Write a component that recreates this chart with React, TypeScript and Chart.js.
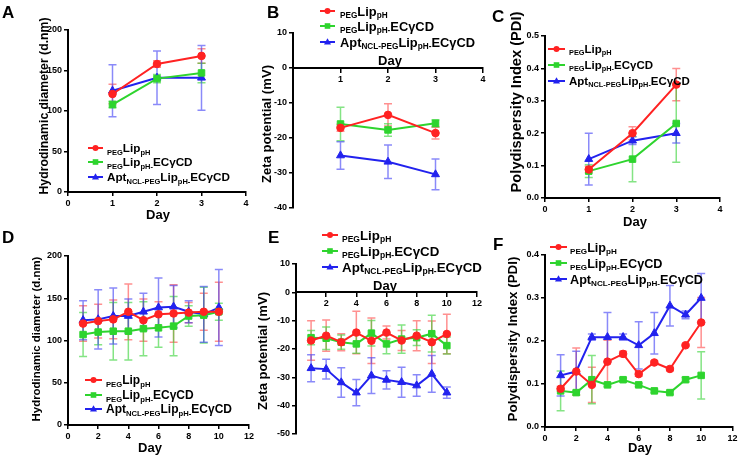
import React, { useEffect, useRef } from 'react';
import { Chart, registerables } from 'chart.js';

Chart.register(...registerables);

const FONT = '"Liberation Sans", Arial, Helvetica, sans-serif';

// ---------------- DATA ----------------
const DAYS_SHORT = [1, 2, 3];
const DAYS_LONG = [1, 2, 3, 4, 5, 6, 7, 8, 9, 10];

// Panel A: hydrodynamic diameter (d.nm), days 1-3
const A_RED = [121, 158, 168];
const A_RED_ERR = [12, 4, 9];
const A_GREEN = [108, 140, 147];
const A_GREEN_ERR = [4, 5, 12];
const A_BLUE = [125, 141, 141];
const A_BLUE_ERR = [32, 33, 40];

// Panel B: zeta potential (mV), days 1-3
const B_RED = [-17.1, -13.4, -18.6];
const B_RED_ERR = [1, 3.2, 1.7];
const B_GREEN = [-16, -17.7, -15.8];
const B_GREEN_ERR = [4.8, 1.8, 1];
const B_BLUE = [-25, -26.8, -30.4];
const B_BLUE_ERR = [3.9, 4.8, 4.4];

// Panel C: PDI, days 1-3
const C_RED = [0.088, 0.2, 0.35];
const C_RED_ERR = [0.01, 0.02, 0.05];
const C_GREEN = [0.083, 0.12, 0.23];
const C_GREEN_ERR = [0.02, 0.07, 0.12];
const C_BLUE = [0.12, 0.177, 0.2];
const C_BLUE_ERR = [0.08, 0.012, 0.03];

// Panel D: hydrodynamic diameter, days 1-10
const D_RED = [120, 123, 125, 134, 124, 131, 132, 133, 134, 134];
const D_RED_ERR = [21, 20, 23, 33, 25, 15, 34, 12, 22, 35];
const D_GREEN = [107, 110, 111, 111, 114, 115, 117, 129, 130, 134];
const D_GREEN_ERR = [26, 15, 34, 34, 32, 23, 35, 12, 33, 10];
const D_BLUE = [124, 125, 129, 129, 134, 139, 140, 134, 131, 139];
const D_BLUE_ERR = [23, 35, 33, 20, 22, 35, 25, 13, 33, 45];

// Panel E: zeta potential, days 1-10
const E_RED = [-17, -15.3, -17.6, -14.2, -17.1, -14.2, -17, -15.3, -17.6, -14.7];
const E_RED_ERR = [7, 5.5, 3, 7.5, 8, 2.3, 3.5, 5.3, 7.5, 7];
const E_GREEN = [-16, -16.2, -17.6, -18.2, -14.4, -18.2, -16.5, -16, -14.6, -18.8];
const E_GREEN_ERR = [2.5, 4, 2.5, 3.3, 4.5, 3.5, 5, 2.8, 6.5, 3];
const E_BLUE = [-26.8, -27.1, -31.8, -35.4, -29.4, -30.9, -31.7, -32.9, -28.8, -35.4];
const E_BLUE_ERR = [4.8, 3.5, 5.2, 4.6, 6.3, 3.2, 5.3, 3.8, 6.5, 2];

// Panel F: PDI, days 1-10
const F_RED = [0.089, 0.129, 0.098, 0.152, 0.17, 0.123, 0.15, 0.135, 0.19, 0.243];
const F_RED_ERR = [0.005, 0.055, 0.041, 0.05, 0.006, 0.005, 0.004, 0.004, 0.003, 0.058];
const F_GREEN = [0.084, 0.08, 0.11, 0.098, 0.11, 0.098, 0.084, 0.08, 0.11, 0.12];
const F_GREEN_ERR = [0.046, 0.005, 0.056, 0.004, 0.004, 0.004, 0.004, 0.004, 0.005, 0.055];
const F_BLUE = [0.12, 0.129, 0.209, 0.209, 0.209, 0.19, 0.218, 0.282, 0.261, 0.3];
const F_BLUE_ERR = [0.048, 0.047, 0.007, 0.057, 0.007, 0.055, 0.048, 0.047, 0.009, 0.057];

// Legend labels (segments; s = subscript)
const LEGEND_LABELS = [
  [{ t: 'PEG', s: true }, { t: 'Lip' }, { t: 'pH', s: true }],
  [{ t: 'PEG', s: true }, { t: 'Lip' }, { t: 'pH-', s: true }, { t: 'ECγCD' }],
  [{ t: 'Apt' }, { t: 'NCL-PEG', s: true }, { t: 'Lip' }, { t: 'pH-', s: true }, { t: 'ECγCD' }],
];
const SERIES_NAMES = ['PEGLippH', 'PEGLippH-ECγCD', 'AptNCL-PEGLippH-ECγCD'];

const Y_TITLE_SIZE = 'Hydrodinamic diameter (d.nm)';
const Y_TITLE_ZETA = 'Zeta potential (mV)';
const Y_TITLE_PDI = 'Polydispersity Index (PDI)';
const X_TITLE = 'Day';

// ---------------- STYLE ----------------
const COLORS = ['#ff2222', '#2ed42e', '#2222ee'];
const ERR_COLORS = ['rgba(255,70,70,0.6)', 'rgba(50,210,50,0.6)', 'rgba(60,60,245,0.6)'];
const POINT_STYLES = ['circle', 'rect', 'triangle'];
const POINT_RADII = [3.8, 4.6, 4.6];

const PANELS: any[] = [
  {
    id: 'A', days: DAYS_SHORT, series: [A_RED, A_GREEN, A_BLUE], errs: [A_RED_ERR, A_GREEN_ERR, A_BLUE_ERR],
    x: [0, 4, 1], y: [0, 200, 50], dec: 0, xAtZero: false,
    area: { l: 68, r: 246, t: 30, b: 192 },
    yTitle: Y_TITLE_SIZE, yt: { x: 45, y: 106, len: 177 }, day: { x: 158, y: 219 },
    letter: { x: 2, y: 18 }, legend: { x0: 88, x1: 103, tx: 107, ys: [148, 162, 177], len: 123 },
  },
  {
    id: 'B', days: DAYS_SHORT, series: [B_RED, B_GREEN, B_BLUE], errs: [B_RED_ERR, B_GREEN_ERR, B_BLUE_ERR],
    x: [0, 4, 1], y: [-40, 10, 10], dec: 0, xAtZero: true,
    area: { l: 293, r: 483, t: 33, b: 208 },
    yTitle: Y_TITLE_ZETA, yt: { x: 267, y: 124, len: 118 }, day: { x: 390, y: 65 },
    letter: { x: 267, y: 18 }, legend: { x0: 320, x1: 335, tx: 340, ys: [11, 26, 42], len: 135 },
  },
  {
    id: 'C', days: DAYS_SHORT, series: [C_RED, C_GREEN, C_BLUE], errs: [C_RED_ERR, C_GREEN_ERR, C_BLUE_ERR],
    x: [0, 4, 1], y: [0, 0.5, 0.1], dec: 1, xAtZero: false,
    area: { l: 545, r: 720, t: 36, b: 198 },
    yTitle: Y_TITLE_PDI, yt: { x: 517, y: 102, len: 181 }, day: { x: 635, y: 226 },
    letter: { x: 492, y: 22 }, legend: { x0: 548, x1: 565, tx: 569, ys: [49, 65, 81], len: 121 },
  },
  {
    id: 'D', days: DAYS_LONG, series: [D_RED, D_GREEN, D_BLUE], errs: [D_RED_ERR, D_GREEN_ERR, D_BLUE_ERR],
    x: [0, 12, 2], y: [0, 200, 50], dec: 0, xAtZero: false,
    area: { l: 68, r: 249, t: 256, b: 425 },
    yTitle: Y_TITLE_SIZE, yt: { x: 37, y: 339, len: 165 }, day: { x: 150, y: 452 },
    letter: { x: 2, y: 243 }, legend: { x0: 85, x1: 102, tx: 106, ys: [380, 395, 409], len: 126 },
  },
  {
    id: 'E', days: DAYS_LONG, series: [E_RED, E_GREEN, E_BLUE], errs: [E_RED_ERR, E_GREEN_ERR, E_BLUE_ERR],
    x: [0, 12, 2], y: [-50, 10, 10], dec: 0, xAtZero: true,
    area: { l: 296, r: 477, t: 264, b: 434 },
    yTitle: Y_TITLE_ZETA, yt: { x: 263, y: 351, len: 118 }, day: { x: 385, y: 290 },
    letter: { x: 268, y: 243 }, legend: { x0: 322, x1: 338, tx: 342, ys: [235, 251, 267], len: 140 },
  },
  {
    id: 'F', days: DAYS_LONG, series: [F_RED, F_GREEN, F_BLUE], errs: [F_RED_ERR, F_GREEN_ERR, F_BLUE_ERR],
    x: [0, 12, 2], y: [0, 0.4, 0.1], dec: 1, xAtZero: false,
    area: { l: 545, r: 733, t: 255, b: 427 },
    yTitle: Y_TITLE_PDI, yt: { x: 513, y: 339, len: 165 }, day: { x: 640, y: 452 },
    letter: { x: 493, y: 250 }, legend: { x0: 550, x1: 567, tx: 570, ys: [247, 263, 279], len: 133 },
  },
];

const CW = 738;
const CH = 463;
const Y_AXIS_W = 40;
const X_AXIS_H = 22;

// ---------------- PLUGINS ----------------
const errorBarPlugin = {
  id: 'errorBars',
  beforeDatasetsDraw(chart: any) {
    const ctx = chart.ctx;
    const ys = chart.scales.y;
    chart.data.datasets.forEach((ds: any, i: number) => {
      const meta = chart.getDatasetMeta(i);
      ctx.save();
      ctx.strokeStyle = ds.errorColor;
      ctx.lineWidth = 1.5;
      meta.data.forEach((el: any, j: number) => {
        const v = ds.data[j].y;
        const e = ds.errors[j];
        const x = el.x;
        const y1 = ys.getPixelForValue(v + e);
        const y2 = ys.getPixelForValue(v - e);
        const cap = 4;
        ctx.beginPath();
        ctx.moveTo(x, y1);
        ctx.lineTo(x, y2);
        ctx.moveTo(x - cap, y1);
        ctx.lineTo(x + cap, y1);
        ctx.moveTo(x - cap, y2);
        ctx.lineTo(x + cap, y2);
        ctx.stroke();
      });
      ctx.restore();
    });
  },
};

function richWidth(ctx: any, segs: any[], M: number) {
  const S = M * 0.64;
  let w = 0;
  for (const seg of segs) {
    ctx.font = `bold ${seg.s ? S : M}px ${FONT}`;
    w += ctx.measureText(seg.t).width;
  }
  return w;
}

function drawRich(ctx: any, segs: any[], x: number, y: number, M: number) {
  const S = M * 0.64;
  const base = y + M * 0.36;
  let cx = x;
  ctx.textAlign = 'left';
  ctx.textBaseline = 'alphabetic';
  for (const seg of segs) {
    ctx.font = `bold ${seg.s ? S : M}px ${FONT}`;
    ctx.fillText(seg.t, cx, seg.s ? base + M * 0.2 : base);
    cx += ctx.measureText(seg.t).width;
  }
}

function drawMarker(ctx: any, style: string, x: number, y: number, color: string) {
  ctx.fillStyle = color;
  ctx.beginPath();
  if (style === 'circle') {
    ctx.arc(x, y, 3, 0, Math.PI * 2);
  } else if (style === 'rect') {
    ctx.rect(x - 2.8, y - 2.8, 5.6, 5.6);
  } else {
    ctx.moveTo(x, y - 3.8);
    ctx.lineTo(x + 3.5, y + 2.5);
    ctx.lineTo(x - 3.5, y + 2.5);
    ctx.closePath();
  }
  ctx.fill();
}

function makeAnnotations(p: any) {
  return {
    id: 'annotations' + p.id,
    afterDraw(chart: any) {
      const ctx = chart.ctx;
      ctx.save();
      ctx.fillStyle = '#000';
      // panel letter
      ctx.font = `bold 17px ${FONT}`;
      ctx.textAlign = 'left';
      ctx.textBaseline = 'alphabetic';
      ctx.fillText(p.id, p.letter.x, p.letter.y);
      // y title
      ctx.font = `bold 12px ${FONT}`;
      const w = ctx.measureText(p.yTitle).width;
      const size = (12 * p.yt.len) / w;
      ctx.save();
      ctx.translate(p.yt.x, p.yt.y);
      ctx.rotate(-Math.PI / 2);
      ctx.font = `bold ${size}px ${FONT}`;
      ctx.textAlign = 'center';
      ctx.textBaseline = 'middle';
      ctx.fillText(p.yTitle, 0, 0);
      ctx.restore();
      // x title
      ctx.font = `bold 13px ${FONT}`;
      ctx.textAlign = 'center';
      ctx.textBaseline = 'alphabetic';
      ctx.fillText(X_TITLE, p.day.x, p.day.y);
      // legend
      const lg = p.legend;
      const M = (10 * lg.len) / richWidth(ctx, LEGEND_LABELS[2], 10);
      LEGEND_LABELS.forEach((segs, i) => {
        const y = lg.ys[i];
        ctx.strokeStyle = COLORS[i];
        ctx.lineWidth = 2;
        ctx.beginPath();
        ctx.moveTo(lg.x0, y);
        ctx.lineTo(lg.x1, y);
        ctx.stroke();
        drawMarker(ctx, POINT_STYLES[i], (lg.x0 + lg.x1) / 2, y, COLORS[i]);
        ctx.fillStyle = '#000';
        drawRich(ctx, segs, lg.tx, y, M);
      });
      ctx.restore();
    },
  };
}

function zeroPad(s: any) {
  s.paddingLeft = 0;
  s.paddingRight = 0;
  s.paddingTop = 0;
  s.paddingBottom = 0;
}

function makeConfig(p: any): any {
  const tickFont = { family: FONT, size: 9, weight: 'bold' };
  const datasets = p.series.map((vals: number[], i: number) => ({
    label: SERIES_NAMES[i],
    data: p.days.map((d: number, j: number) => ({ x: d, y: vals[j] })),
    errors: p.errs[i],
    errorColor: ERR_COLORS[i],
    borderColor: COLORS[i],
    backgroundColor: COLORS[i],
    borderWidth: 2,
    pointStyle: POINT_STYLES[i],
    pointRadius: POINT_RADII[i],
    pointBorderWidth: 1,
    pointBackgroundColor: COLORS[i],
    pointBorderColor: COLORS[i],
    tension: 0,
    fill: false,
    clip: false,
  }));
  const a = p.area;
  return {
    type: 'line',
    data: { datasets },
    options: {
      responsive: false,
      animation: false,
      devicePixelRatio: 1,
      layout: {
        padding: {
          left: a.l - Y_AXIS_W,
          top: a.t,
          right: CW - a.r,
          bottom: p.xAtZero ? CH - a.b : CH - a.b - X_AXIS_H,
        },
      },
      plugins: { legend: { display: false }, tooltip: { enabled: false }, title: { display: false } },
      scales: {
        x: {
          type: 'linear',
          position: p.xAtZero ? { y: 0 } : 'bottom',
          min: p.x[0],
          max: p.x[1],
          ticks: {
            stepSize: p.x[2],
            font: tickFont,
            color: '#000',
            padding: 2,
            maxRotation: 0,
            autoSkip: false,
            callback: (v: number) => (p.xAtZero && v === 0 ? '' : String(v)),
          },
          grid: { drawOnChartArea: false, color: '#000', tickLength: 4, lineWidth: 1.5 },
          border: { display: true, color: '#000', width: 2 },
          title: { display: false },
          afterFit: (s: any) => {
            if (!p.xAtZero) s.height = X_AXIS_H;
            zeroPad(s);
          },
        },
        y: {
          type: 'linear',
          position: 'left',
          min: p.y[0],
          max: p.y[1],
          ticks: {
            stepSize: p.y[2],
            font: tickFont,
            color: '#000',
            padding: 2,
            autoSkip: false,
            callback: (v: number) => (p.dec ? v.toFixed(p.dec) : String(Math.round(v))),
          },
          grid: { drawOnChartArea: false, color: '#000', tickLength: 4, lineWidth: 1.5 },
          border: { display: true, color: '#000', width: 2 },
          title: { display: false },
          afterFit: (s: any) => {
            s.width = Y_AXIS_W;
            zeroPad(s);
          },
        },
      },
    },
    plugins: [errorBarPlugin, makeAnnotations(p)],
  };
}

function Panel({ p }: { p: any }) {
  const ref = useRef<HTMLCanvasElement>(null);
  useEffect(() => {
    const chart = new Chart(ref.current as HTMLCanvasElement, makeConfig(p));
    return () => chart.destroy();
  }, [p]);
  return (
    <canvas
      ref={ref}
      width={CW}
      height={CH}
      style={{ position: 'absolute', left: 0, top: 0, width: CW, height: CH }}
    />
  );
}

export default function App() {
  return (
    <div
      style={{
        position: 'absolute',
        left: 0,
        top: 0,
        width: CW,
        height: CH,
        background: '#fff',
        overflow: 'hidden',
      }}
    >
      {PANELS.map((p) => (
        <Panel key={p.id} p={p} />
      ))}
    </div>
  );
}
